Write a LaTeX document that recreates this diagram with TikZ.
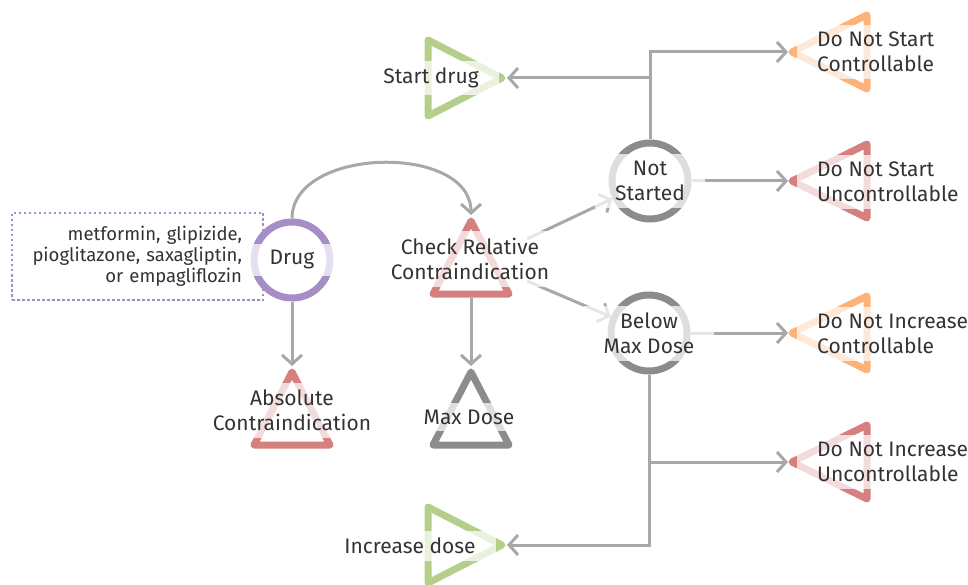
\documentclass[tikz,border=0pt]{standalone}
\usepackage{fontspec}
\setmainfont{Fira Sans}
\usetikzlibrary{arrows.meta}
\definecolor{edgegray}{HTML}{A8A8A8}
\definecolor{ringgray}{HTML}{8C8C8C}
\definecolor{drugpurple}{HTML}{A58DC6}
\definecolor{startgreen}{HTML}{B5CF8B}
\definecolor{contrared}{HTML}{D67F7F}
\definecolor{ctrlorange}{HTML}{FDB27A}
\definecolor{txt}{HTML}{333333}
\tikzset{
  edge/.style={draw=edgegray, line width=3, -{Straight Barb[length=9pt,width=20pt]}},
  ring/.style={circle, fill=white, line width=7, minimum size=76, inner sep=0},
  tri/.style={line width=7, line join=round, fill=white},
  lbl/.style={fill=white, fill opacity=0.72, text opacity=1, text=txt, align=center,
    inner xsep=20, inner ysep=7, font=\fontsize{21}{25}\selectfont},
  lbll/.style={lbl, align=left, anchor=west},
  drugbox/.style={draw=drugpurple, line width=2.5, dash pattern=on 2.5pt off 2.5pt,
    minimum width=251, minimum height=87, text width=209, align=right, text=txt,
    font=\fontsize{18.5}{21}\selectfont}
}
\begin{document}
\begin{tikzpicture}[x=1pt,y=-1pt]
  \useasboundingbox (0,0) rectangle (968,585);
  % drug list
  \node[drugbox] (drugs) at (137.5,256.5)
    {metformin, glipizide,\\\leavevmode\llap{pioglitazone, saxagliptin,}\\or empagliflozin};

  % circles
  \node[ring, draw=drugpurple] (drug) at (292,260) {};
  \node[ring, draw=ringgray] (notst) at (650,181) {};
  \node[ring, draw=ringgray] (below) at (649,333) {};

  % triangles
  \draw[tri, draw=startgreen] (428,40) -- (502,78) -- (428,116) -- cycle;
  \draw[tri, draw=startgreen] (428,507) -- (502,545) -- (428,583) -- cycle;
  \draw[tri, draw=contrared] (471,221) -- (433,294) -- (509,294) -- cycle;
  \draw[tri, draw=contrared] (292,372) -- (254,445) -- (330,445) -- cycle;
  \draw[tri, draw=ringgray] (471,372) -- (433,445) -- (509,445) -- cycle;
  \draw[tri, draw=ctrlorange] (792,52) -- (867,15) -- (867,89) -- cycle;
  \draw[tri, draw=contrared] (792,181) -- (867,144) -- (867,218) -- cycle;
  \draw[tri, draw=ctrlorange] (792,333) -- (867,296) -- (867,370) -- cycle;
  \draw[tri, draw=contrared] (792,462) -- (867,425) -- (867,499) -- cycle;

  \coordinate (chk) at (471,215);
  \coordinate (chkr1) at (527,239);
  \coordinate (chkr2) at (527,281);
  \coordinate (chkb) at (471,298);
  \coordinate (absc) at (292,366);
  \coordinate (maxd) at (471,366);
  \coordinate (start) at (507,78);
  \coordinate (incr) at (507,545);
  \coordinate (dnsc) at (788,52);
  \coordinate (dnsu) at (788,181);
  \coordinate (dnic) at (788,333);
  \coordinate (dniu) at (788,462);

  % connectors
  \draw[edge] (drug.north) .. controls +(0,-72) and +(0,-72) .. (chk);
  \draw[edge] (drug.south) -- (absc);
  \draw[edge] (chkr1) -- (notst);
  \draw[edge] (chkr2) -- (below);
  \draw[edge] (chkb) -- (maxd);
  \draw[edge] (notst.north) |- (start);
  \draw[edge] (notst.north) |- (dnsc);
  \draw[edge] (notst.east) -- (dnsu);
  \draw[edge] (below.east) -- (dnic);
  \draw[edge] (below.south) |- (dniu);
  \draw[edge] (below.south) |- (incr);

  % labels
  \node[lbl] (drug-l) at (drug) {Drug};
  \node[lbl] (notst-l) at (notst) {Not\\Started};
  \node[lbl] (below-l) at (below) {Below\\Max Dose};
  \node[lbl] (start-l) at (431,78) {Start drug};
  \node[lbl] (incr-l) at (410,546) {Increase dose};
  \node[lbl] (chk-l) at (470,259) {Check Relative\\Contraindication};
  \node[lbl] (absc-l) at (292,410) {Absolute\\Contraindication};
  \node[lbl] (maxd-l) at (469,417) {Max Dose};
  \node[lbll] (dnsc-l) at (797,52) {Do Not Start\\Controllable};
  \node[lbll] (dnsu-l) at (797,182) {Do Not Start\\Uncontrollable};
  \node[lbll] (dnic-l) at (797,334) {Do Not Increase\\Controllable};
  \node[lbll] (dniu-l) at (797,462) {Do Not Increase\\Uncontrollable};
\end{tikzpicture}
\end{document}
